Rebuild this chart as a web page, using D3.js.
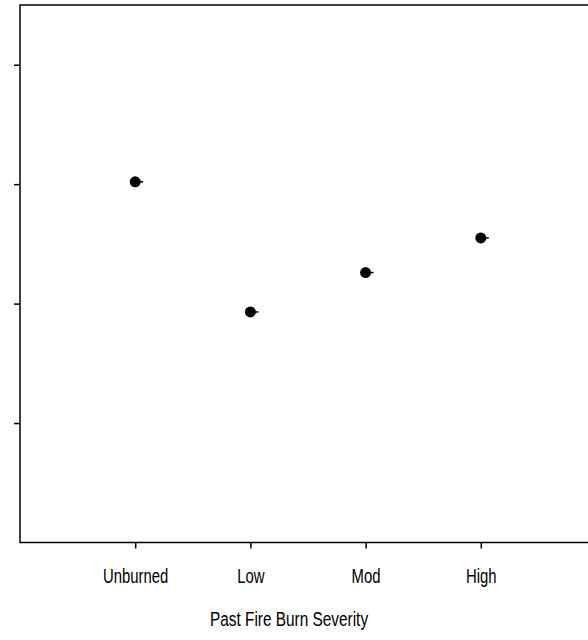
<!DOCTYPE html>
<html>
<head>
<meta charset="utf-8">
<script src="https://cdn.jsdelivr.net/npm/d3@7"></script>
<style>
	body { margin: 0; background: #fff; }
	text { font-family: "Liberation Sans", Arial, sans-serif; }
</style>
</head>
<body>
<script>

	// Data
	// ==============================================

	var categories = ["Unburned", "Low", "Mod", "High"];
	var means = [3.02, 1.93, 2.26, 2.55];
	var yTicks = [1, 2, 3, 4];
	var xTitle = "Past Fire Burn Severity";

	// Setup
	// ==============================================

	var width = 588, height = 640,
		plotLeft = 20, plotTop = 5, plotRight = 596, plotBottom = 542.5;

	var svg = d3.select("body").append("svg")
		.attr("width", width)
		.attr("height", height);

	var xScale = d3.scalePoint()
		.domain(categories)
		.range([plotLeft, plotRight])
		.padding(1);

	var yScale = d3.scaleLinear()
		.domain([0, 4.5])
		.range([plotBottom, plotTop]);

	// Frame
	// ==============================================

	svg.append("rect")
		.attr("x", plotLeft)
		.attr("y", plotTop)
		.attr("width", plotRight - plotLeft)
		.attr("height", plotBottom - plotTop)
		.attr("fill", "none")
		.attr("stroke", "#000")
		.attr("stroke-width", 1.5);

	// Axes
	// ==============================================

	var yAxis = svg.append("g")
		.attr("transform", "translate(" + plotLeft + ",0)")
		.call(d3.axisLeft(yScale).tickValues(yTicks).tickSize(6).tickFormat(""));

	var xAxis = svg.append("g")
		.attr("transform", "translate(0," + plotBottom + ")")
		.call(d3.axisBottom(xScale).tickSize(6).tickPadding(0));

	[yAxis, xAxis].forEach(function(g){
		g.select(".domain").remove();
		g.selectAll(".tick line").attr("stroke", "#000").attr("stroke-width", 1.5);
	});

	// narrow, tall labels like the original
	xAxis.selectAll(".tick text")
		.attr("fill", "#000")
		.attr("dy", null)
		.attr("y", 0)
		.attr("transform", "translate(0,40) scale(0.745,1)")
		.style("font-size", "20px")
		.style("font-family", "'Liberation Sans', Arial, sans-serif");

	svg.append("text")
		.attr("transform", "translate(" + (width / 2 - 5) + ",626) scale(0.77,1)")
		.attr("text-anchor", "middle")
		.style("font-size", "20px")
		.text(xTitle);

	// Points
	// ==============================================

	var pts = svg.selectAll("g.pt")
		.data(categories)
		.enter().append("g")
		.attr("class", "pt")
		.attr("transform", function(d, i){
			return "translate(" + xScale(d) + "," + yScale(means[i]) + ")";
		});

	pts.append("line")
		.attr("x1", 0).attr("x2", 8)
		.attr("stroke", "#000")
		.attr("stroke-width", 1.5);

	pts.append("circle")
		.attr("r", 5.5)
		.attr("fill", "#000");

</script>
</body>
</html>
